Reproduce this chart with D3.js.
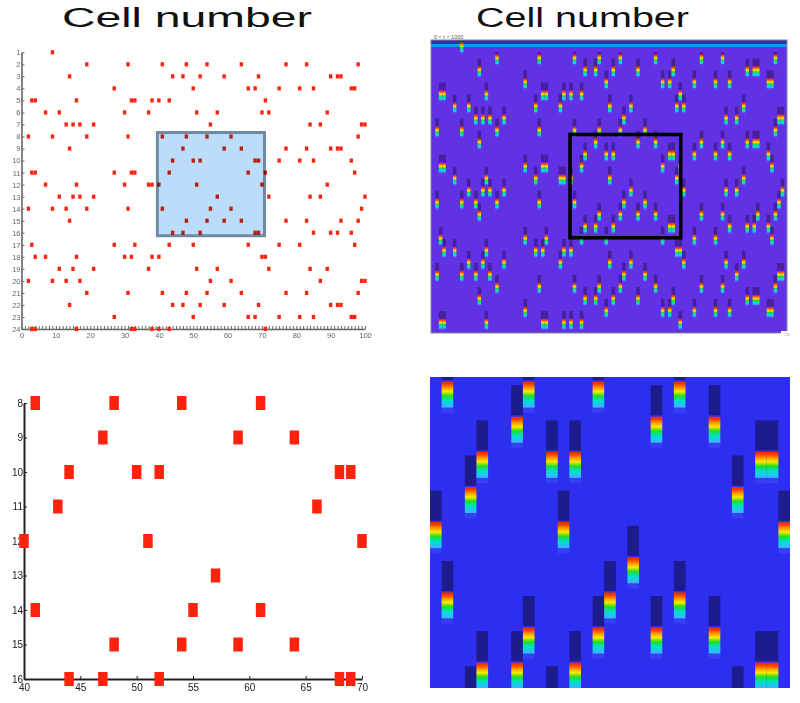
<!DOCTYPE html>
<html>
<head>
<meta charset="utf-8">
<script src="https://cdn.jsdelivr.net/npm/d3@7"></script>
<style>
  body { margin: 0; background: #fff; }
  svg { display: block; font-family: "Liberation Sans", Arial, sans-serif; }
</style>
</head>
<body>
<svg id="chart" width="800" height="703"></svg>
<script>
// cell numbers, one per row of the raster
const rowLabels = d3.range(1, 25);
const colTicks = [0, 10, 20, 30, 40, 50, 60, 70, 80, 90, 100];
const zoomColTicks = [40, 45, 50, 55, 60, 65, 70];
const zoomRowLabels = [8, 9, 10, 11, 12, 13, 14, 15, 16];

// which columns fire in each row
const row1 = [9];
const row2 = [19, 31, 41, 48, 54, 64, 77, 83, 98];
const row3 = [14, 44, 47, 52, 59, 69, 90, 92, 93];
const row4 = [27, 50, 66, 68, 75, 81, 85, 96, 97];
const row5 = [3, 4, 16, 32, 33, 38, 40, 43, 71];
const row6 = [7, 11, 30, 37, 51, 57, 70, 72, 89];
const row7 = [13, 15, 17, 21, 55, 84, 87, 99, 100];
const row8 = [2, 9, 19, 31, 41, 48, 54, 61, 98];
const row9 = [14, 47, 59, 64, 77, 83, 90, 92, 93];
const row10 = [44, 50, 52, 68, 69, 75, 81, 85, 96];
const row11 = [3, 4, 27, 32, 33, 43, 66, 71, 97];
const row12 = [7, 16, 30, 37, 38, 40, 51, 70, 89];
const row13 = [11, 15, 17, 21, 57, 72, 84, 87, 100];
const row14 = [2, 9, 13, 19, 31, 41, 55, 61, 99];
const row15 = [14, 48, 54, 59, 64, 77, 83, 93, 98];
const row16 = [44, 47, 52, 68, 69, 85, 90, 92, 96];
const row17 = [3, 27, 33, 43, 50, 66, 75, 81, 97];
const row18 = [4, 7, 16, 30, 32, 38, 40, 70, 71];
const row19 = [11, 15, 21, 37, 51, 57, 72, 84, 89];
const row20 = [2, 9, 13, 17, 55, 61, 87, 99, 100];
const row21 = [19, 31, 41, 48, 54, 64, 77, 83, 98];
const row22 = [14, 44, 47, 52, 59, 69, 90, 92, 93];
const row23 = [27, 50, 66, 68, 75, 81, 85, 96, 97];
const row24 = [3, 4, 16, 32, 33, 38, 40, 43, 71];

const rows = [row1, row2, row3, row4, row5, row6, row7, row8, row9, row10, row11, row12,
  row13, row14, row15, row16, row17, row18, row19, row20, row21, row22, row23, row24];
const spikes = rows.flatMap((cols, i) => cols.map(c => ({ row: i + 1, col: c })));
const zoomed = spikes.filter(d => d.row >= 8 && d.row <= 16 && d.col >= 40 && d.col <= 70);

const svg = d3.select("#chart");
const defs = svg.append("defs");

defs.append("filter").attr("id", "soft")
  .attr("x", "-5%").attr("y", "-5%").attr("width", "110%").attr("height", "110%")
  .append("feGaussianBlur").attr("stdDeviation", 0.45);

// firing colours, top to bottom of a drop
const rainbow = [
  ["0%", "#e83000"], ["8%", "#ff3000"], ["22%", "#ff9000"], ["38%", "#ffe800"],
  ["55%", "#20e020"], ["74%", "#00e0d0"], ["100%", "#40b0ff"]
];
const grad = defs.append("linearGradient").attr("id", "rainbow")
  .attr("x1", 0).attr("y1", 0).attr("x2", 0).attr("y2", 1);
grad.selectAll("stop").data(rainbow).enter().append("stop")
  .attr("offset", d => d[0]).attr("stop-color", d => d[1]);

function clip(id, x, y, w, h) {
  defs.append("clipPath").attr("id", id).append("rect")
    .attr("x", x).attr("y", y).attr("width", w).attr("height", h);
}

// titles
function title(x, len, y) {
  svg.append("text").attr("x", x).attr("y", y)
    .attr("textLength", len).attr("lengthAdjust", "spacingAndGlyphs")
    .attr("font-size", 27).attr("fill", "#111").text("Cell number");
}
title(62, 250, 27);
title(476, 213, 27);

// ---- raster panels ----
function raster(opts) {
  const x = d3.scaleLinear().domain(opts.xDomain).range(opts.xRange);
  const y = d3.scaleLinear().domain(opts.yDomain).range(opts.yRange);
  const g = svg.append("g");

  const xAxis = d3.axisBottom(x).tickValues(opts.xTicks)
    .tickFormat(d => opts.xLabels.includes(d) ? d : "")
    .tickSizeInner(-opts.tick).tickSizeOuter(0).tickPadding(opts.xPad);
  const yAxis = d3.axisLeft(y).tickValues(opts.yTicks)
    .tickSizeInner(-opts.tick).tickSizeOuter(0).tickPadding(opts.yPad);

  const ax = g.append("g").attr("filter", "url(#soft)");
  ax.append("g").attr("transform", `translate(0,${opts.yRange[1]})`).call(xAxis);
  ax.append("g").attr("transform", `translate(${opts.xRange[0]},0)`).call(yAxis);
  ax.selectAll(".domain").attr("stroke", opts.axisColor).attr("stroke-width", opts.axisWidth);
  ax.selectAll(".tick line").attr("stroke", opts.axisColor);
  ax.selectAll("text").attr("fill", opts.axisColor).attr("font-size", opts.fontSize)
    .attr("font-family", "Liberation Sans");

  g.append("g").attr("filter", "url(#soft)").selectAll("rect")
    .data(opts.data).enter().append("rect")
    .attr("x", d => x(d.col) - opts.mw / 2)
    .attr("y", d => y(d.row) - opts.mh / 2)
    .attr("width", opts.mw).attr("height", opts.mh)
    .attr("fill", "#ff2410");
  return { x, y };
}

const overview = raster({
  data: spikes, xDomain: [0, 100], xRange: [21.5, 365], yDomain: [1, 24], yRange: [52.3, 329],
  xTicks: d3.range(0, 101), xLabels: colTicks, yTicks: rowLabels,
  tick: 3, xPad: 4, yPad: 1, axisColor: "#666", axisWidth: 1.6, fontSize: 7.5, mw: 3.4, mh: 4.2
});

// highlighted window, multiplied over the marks
svg.append("rect")
  .attr("x", overview.x(40) - 1.5).attr("y", overview.y(8) - 4)
  .attr("width", overview.x(70) - overview.x(40) + 4)
  .attr("height", overview.y(16) - overview.y(8) + 7)
  .attr("fill", "#bbdcfb").attr("stroke", "#6f8aa5").attr("stroke-width", 3)
  .style("mix-blend-mode", "multiply");

raster({
  data: zoomed, xDomain: [40, 70], xRange: [24, 362], yDomain: [8, 16], yRange: [403, 679],
  xTicks: zoomColTicks, xLabels: zoomColTicks, yTicks: zoomRowLabels,
  tick: 3, xPad: 5, yPad: 1, axisColor: "#222", axisWidth: 2, fontSize: 10, mw: 9.5, mh: 14
});

// ---- heat panels ----
function heat(opts) {
  const x = d3.scaleLinear().domain(opts.xDomain).range(opts.xRange);
  const y = d3.scaleLinear().domain(opts.yDomain).range(opts.yRange);
  const p = opts.panel;
  clip(opts.id, p.x, p.y, p.w, p.h);
  const g = svg.append("g").attr("clip-path", `url(#${opts.id})`);
  const inner = g.append("g").attr("filter", "url(#soft)");
  const w = Math.abs(x(1) - x(0));

  inner.append("rect").attr("x", p.x).attr("y", p.y).attr("width", p.w).attr("height", p.h)
    .attr("fill", opts.bg);

  inner.append("g").selectAll("rect").data(spikes).enter().append("rect")
    .attr("x", d => x(d.col) - w / 2)
    .attr("y", d => y(d.row) - opts.dropH / 2 - opts.gap - opts.capH)
    .attr("width", w).attr("height", opts.capH)
    .attr("fill", opts.cap);

  if (opts.band) {
    inner.append("rect").attr("x", p.x).attr("y", p.y).attr("width", p.w).attr("height", 4)
      .attr("fill", "#3c2aa8");
    inner.append("rect").attr("x", p.x).attr("y", p.y + 4).attr("width", p.w).attr("height", 3)
      .attr("fill", "#0a9cf0");
    inner.append("rect").attr("x", p.x).attr("y", p.y + 7).attr("width", p.w).attr("height", 5)
      .attr("fill", opts.bg);
  }

  inner.append("g").selectAll("rect").data(spikes).enter().append("rect")
    .attr("x", d => x(d.col) - w / 2)
    .attr("y", d => y(d.row) + opts.dropH / 2)
    .attr("width", w).attr("height", opts.dropH * 0.2)
    .attr("fill", opts.halo);

  inner.append("g").selectAll("rect").data(spikes).enter().append("rect")
    .attr("x", d => x(d.col) - w / 2)
    .attr("y", d => y(d.row) - opts.dropH / 2)
    .attr("width", w).attr("height", opts.dropH)
    .attr("fill", "url(#rainbow)");
  return { x, y };
}

const heatTop = heat({
  id: "heatTop", panel: { x: 431, y: 40, w: 356, h: 293 },
  xDomain: [0, 100], xRange: [430, 782.5], yDomain: [1, 24], yRange: [47.3, 324],
  bg: "#6030e4", cap: "#45209a", halo: "#5a44ea", dropH: 9.5, capH: 7.5, gap: 0.6, band: true
});
svg.append("rect").attr("x", 431).attr("y", 40).attr("width", 356).attr("height", 293)
  .attr("fill", "none").attr("stroke", "#888").attr("stroke-width", 1);

svg.append("text").attr("x", 434).attr("y", 38.5).attr("font-size", 5.5)
  .attr("fill", "#555").text("0 < t < 1000");

// little white corner with its scale note
svg.append("rect").attr("x", 781).attr("y", 331).attr("width", 10).attr("height", 6).attr("fill", "#fff");
svg.append("text").attr("x", 784).attr("y", 336).attr("font-size", 4)
  .attr("fill", "#999").text("-70");

// black window on the heat map
svg.append("rect")
  .attr("x", heatTop.x(40) - 1).attr("y", heatTop.y(8) + 3)
  .attr("width", heatTop.x(70) - heatTop.x(40) + 5)
  .attr("height", heatTop.y(16) - heatTop.y(8) + 7)
  .attr("fill", "none").attr("stroke", "#000").attr("stroke-width", 3.6);

heat({
  id: "heatZoom", panel: { x: 430, y: 377, w: 360, h: 311 },
  xDomain: [39.5, 70.5], xRange: [430, 790], yDomain: [8, 16], yRange: [394.6, 675.7],
  bg: "#2f2ff0", cap: "#1a1a8c", halo: "#3440f4", dropH: 26, capH: 30, gap: 1.5, band: false
});
</script>
</body>
</html>
